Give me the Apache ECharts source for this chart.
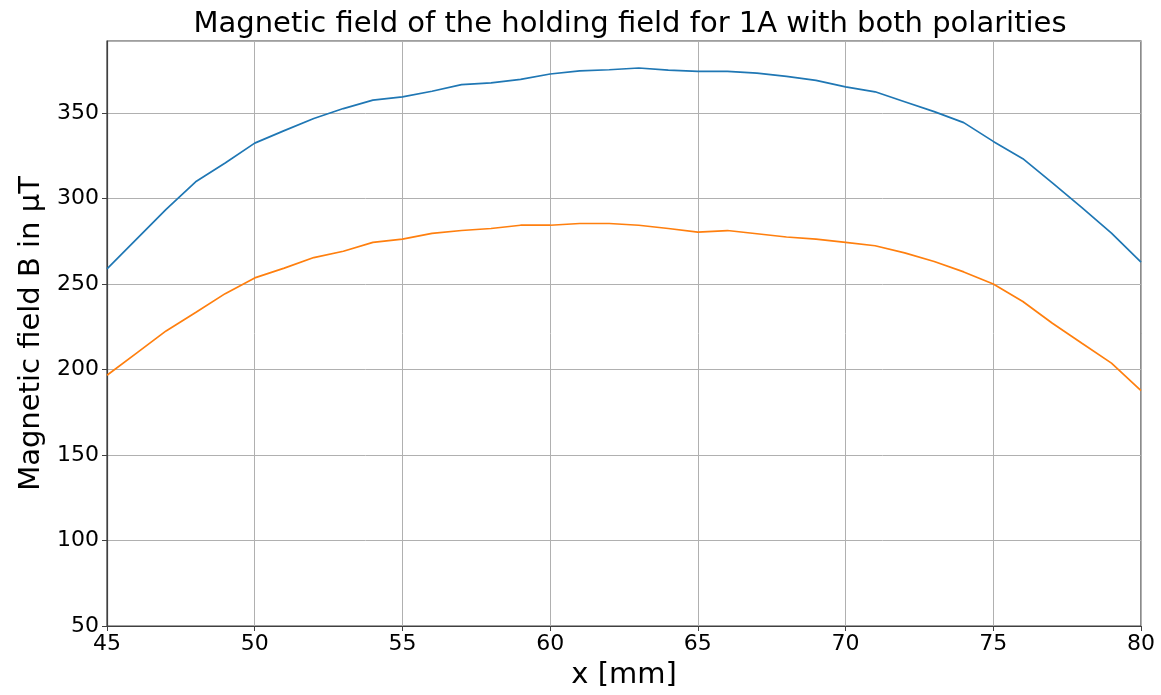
<!DOCTYPE html>
<html>
<head>
<meta charset="utf-8">
<script src="https://cdn.jsdelivr.net/npm/echarts@6/dist/echarts.min.js"></script>
<style>
  html, body { margin: 0; padding: 0; background: #fff; }
  #chart { width: 1161px; height: 695px; }
</style>
</head>
<body>
<div id="chart"></div>
<script>
// Position along the holding-field axis, in mm
const positions = [45, 46, 47, 48, 49, 50, 51, 52, 53, 54, 55, 56, 57, 58, 59, 60, 61, 62,
                   63, 64, 65, 66, 67, 68, 69, 70, 71, 72, 73, 74, 75, 76, 77, 78, 79, 80];

// Measured field (µT) for the first polarity
const fieldPolarityA = [258.8, 276.2, 293.6, 309.7, 320.7, 332.3, 339.6, 346.7, 352.5, 357.4,
                        359.3, 362.6, 366.5, 367.5, 369.6, 372.7, 374.5, 375.2, 376.2, 375.0,
                        374.2, 374.2, 373.2, 371.3, 369.0, 365.2, 362.3, 356.5, 350.7, 344.3,
                        333.3, 323.2, 309.1, 294.6, 279.7, 262.7];

// Measured field (µT) for the reversed polarity
const fieldPolarityB = [196.6, 209.5, 222.5, 233.3, 244.3, 253.5, 259.2, 265.4, 269.1, 274.3,
                        276.2, 279.5, 281.2, 282.4, 284.3, 284.3, 285.3, 285.3, 284.3, 282.4,
                        280.3, 281.2, 279.3, 277.4, 276.2, 274.3, 272.3, 268.1, 263.1, 257.0,
                        249.9, 239.7, 227.0, 215.3, 203.7, 187.6];

const xTicks = [45, 50, 55, 60, 65, 70, 75, 80];
const yTicks = [50, 100, 150, 200, 250, 300, 350];

const pairs = (xs, ys) => xs.map((x, i) => [x, ys[i]]);

const font = 'DejaVu Sans';
const chart = echarts.init(document.getElementById('chart'), null, { renderer: 'canvas' });

chart.setOption({
  animation: false,
  backgroundColor: '#ffffff',
  title: {
    text: 'Magnetic field of the holding field for 1A with both polarities',
    left: 625,
    textAlign: 'center',
    top: 5,
    textStyle: { fontFamily: font, fontSize: 29, fontWeight: 'normal', color: '#000' }
  },
  grid: {
    left: 107, right: 20, top: 41, bottom: 65,
    show: true, borderColor: '#404040', borderWidth: 1.2, backgroundColor: 'transparent'
  },
  xAxis: {
    type: 'value',
    min: 45, max: 80, interval: 5,
    name: 'x [mm]',
    nameLocation: 'middle',
    nameGap: 35,
    nameTextStyle: { fontFamily: font, fontSize: 29, color: '#000' },
    axisLine: { show: true, lineStyle: { color: '#404040', width: 1.2 } },
    axisTick: { show: true, length: 5, inside: false, lineStyle: { color: '#404040' } },
    axisLabel: {
      fontFamily: font, fontSize: 22, color: '#000', margin: 7,
      formatter: v => (xTicks.includes(v) ? String(v) : '')
    },
    splitLine: { show: true, lineStyle: { color: '#b0b0b0', width: 1 } }
  },
  yAxis: {
    type: 'value',
    min: 50, max: 392, interval: 50,
    name: 'Magnetic field B in µT',
    nameLocation: 'middle',
    nameGap: 57,
    nameTextStyle: { fontFamily: font, fontSize: 29, color: '#000' },
    axisLine: { show: true, lineStyle: { color: '#404040', width: 1.2 } },
    axisTick: { show: true, length: 5, inside: false, lineStyle: { color: '#404040' } },
    axisLabel: {
      fontFamily: font, fontSize: 22, color: '#000', margin: 8,
      showMaxLabel: false,
      formatter: v => (yTicks.includes(v) ? String(v) : '')
    },
    splitLine: { show: true, lineStyle: { color: '#b0b0b0', width: 1 } }
  },
  series: [
    {
      name: 'Polarity +',
      type: 'line',
      data: pairs(positions, fieldPolarityA),
      showSymbol: false,
      lineStyle: { color: '#1f77b4', width: 1.7 },
      itemStyle: { color: '#1f77b4' }
    },
    {
      name: 'Polarity -',
      type: 'line',
      data: pairs(positions, fieldPolarityB),
      showSymbol: false,
      lineStyle: { color: '#ff7f0e', width: 1.7 },
      itemStyle: { color: '#ff7f0e' }
    }
  ]
});
</script>
</body>
</html>
